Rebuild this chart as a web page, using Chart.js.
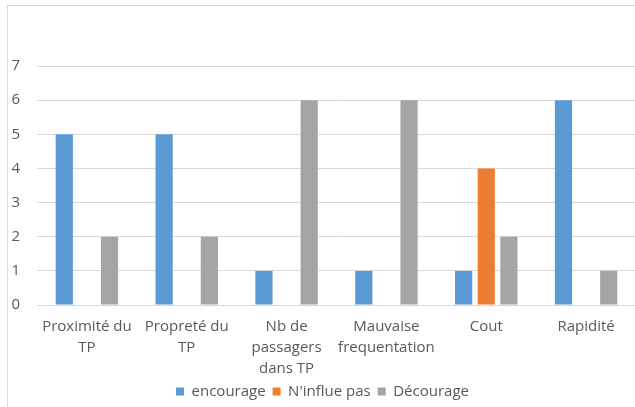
<!DOCTYPE html>
<html>
<head>
<meta charset="utf-8">
<script src="https://cdn.jsdelivr.net/npm/chart.js@4"></script>
<style>
  body { margin: 0; background: #fff; }
  #frame {
    position: absolute; left: 7px; top: 5px; width: 628px; height: 402px;
    border-top: 1px solid #d9d9d9; border-left: 1px solid #d9d9d9;
  }
  #wrap { position: absolute; left: 1px; top: 0; width: 627px; height: 401px; }
</style>
</head>
<body>
<div id="frame"><div id="wrap"><canvas id="myChart"></canvas></div></div>
<script>
const categories = [
    ['Proximité du', 'TP'],
    ['Propreté du', 'TP'],
    ['Nb de', 'passagers', 'dans TP'],
    ['Mauvaise', 'frequentation'],
    'Cout',
    'Rapidité'
];
const encourage = [5, 5, 1, 1, 1, 6];
const influePas = [0, 0, 0, 0, 4, 0];
const decourage = [2, 2, 6, 6, 2, 1];
const yTicks = [0, 1, 2, 3, 4, 5, 6, 7];

const textColor = '#595959';
const family = "'Open Sans', sans-serif";

const ctx = document.getElementById('myChart');

let config = {
    type: 'bar',
    data: {
        labels: categories,
        datasets: [
            { label: 'encourage', data: encourage, backgroundColor: '#5b9bd5' },
            { label: "N'influe pas", data: influePas, backgroundColor: '#ed7d31' },
            { label: 'Décourage', data: decourage, backgroundColor: '#a5a5a5' }
        ]
    },
    options: {
        responsive: true,
        maintainAspectRatio: false,
        animation: false,
        datasets: {
            bar: { categoryPercentage: 0.68, barPercentage: 0.76 }
        },
        layout: { padding: { top: 60, right: 0, bottom: 0, left: 0 } },
        plugins: {
            tooltip: { enabled: false },
            legend: {
                position: 'bottom',
                maxHeight: 30,
                labels: {
                    color: textColor,
                    font: { family: family, size: 15 },
                    boxWidth: 8,
                    boxHeight: 8,
                    padding: 7
                }
            }
        },
        scales: {
            x: {
                grid: { display: false },
                border: { display: true, color: '#d9d9d9' },
                ticks: {
                    color: textColor,
                    font: { family: family, size: 15, lineHeight: 1.4 },
                    padding: 3,
                    maxRotation: 0,
                    autoSkip: false
                },
                afterFit: function (scale) { scale.height = 72; }
            },
            y: {
                min: 0,
                max: yTicks[yTicks.length - 1],
                afterBuildTicks: function (scale) {
                    scale.ticks = yTicks.map(v => ({ value: v }));
                },
                grid: { color: '#d9d9d9', drawTicks: false },
                border: { display: false },
                ticks: { color: textColor, font: { family: family, size: 15 }, padding: 17 },
                afterFit: function (scale) { scale.width = 28; }
            }
        }
    }
};

let myChart = new Chart(ctx, config);
</script>
</body>
</html>
